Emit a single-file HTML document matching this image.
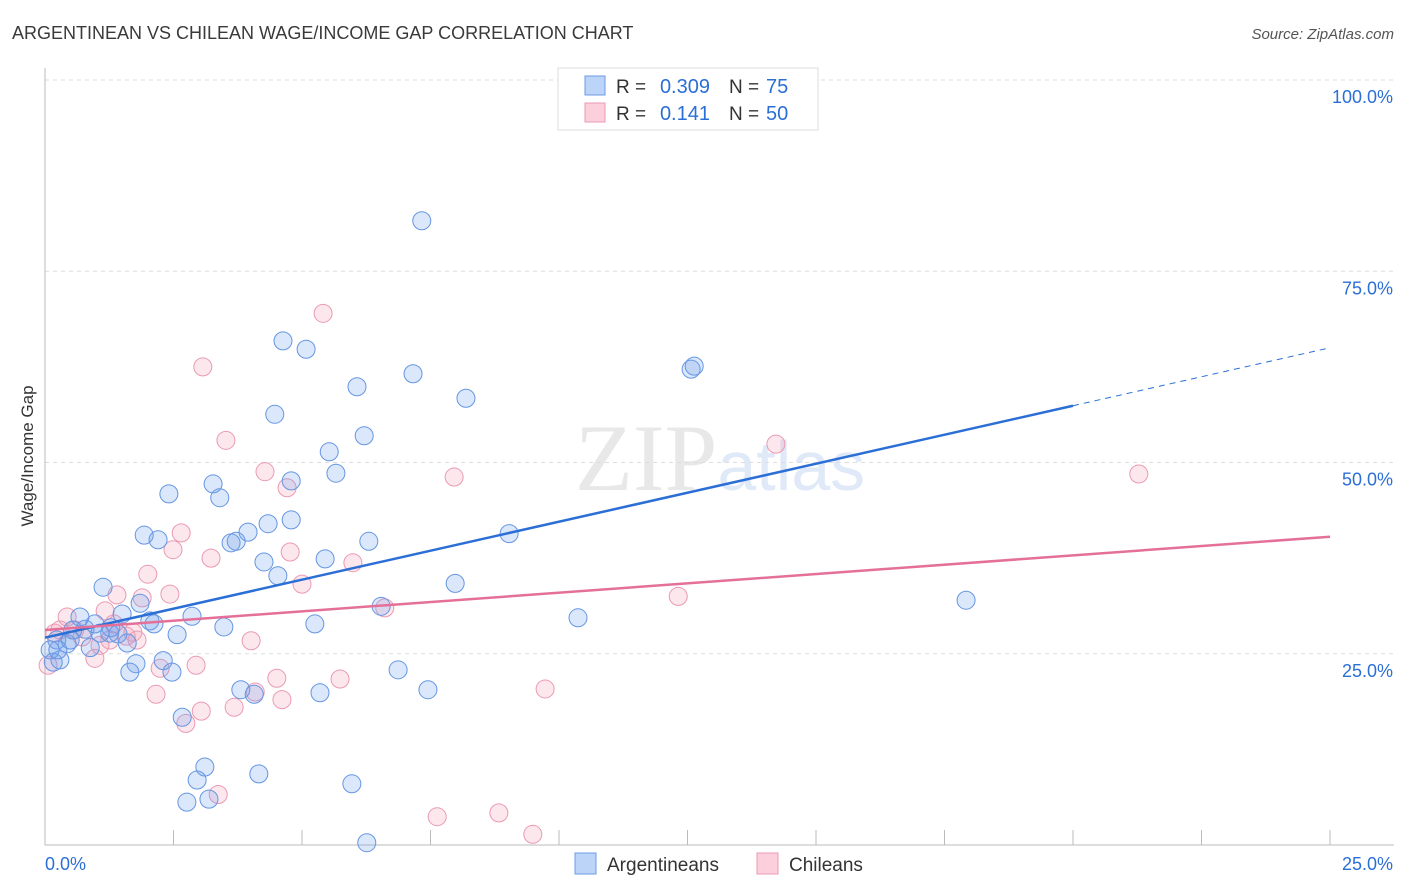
<!DOCTYPE html>
<html><head><meta charset="utf-8"><style>
body{margin:0;background:#fff;font-family:"Liberation Sans",sans-serif}
svg{display:block}
</style></head><body>
<svg id="chart" width="1406" height="892" viewBox="0 0 1406 892" xmlns="http://www.w3.org/2000/svg">
<text x="12" y="39" font-size="18" fill="#3a3a3a" font-family="Liberation Sans, sans-serif">ARGENTINEAN VS CHILEAN WAGE/INCOME GAP CORRELATION CHART</text>
<text x="1394" y="39" font-size="15" fill="#555" text-anchor="end" font-style="italic">Source: ZipAtlas.com</text>
<text x="720" y="490" font-size="95" fill="#e8e8e8" text-anchor="middle" font-family="Liberation Serif, serif">ZIP<tspan fill="#dfe9f7" font-family="Liberation Sans, sans-serif" font-size="70">atlas</tspan></text>
<g id="grid"></g>
<g id="axes"></g>
<g id="points"></g>
<g id="trends"></g>
<text transform="translate(33,456) rotate(-90)" font-size="17" fill="#333" text-anchor="middle">Wage/Income Gap</text>
<g>
<rect x="558" y="68" width="260" height="62" fill="#fff" stroke="#ddd"/>
<rect x="585" y="76" width="20" height="19" fill="#bcd4f7" stroke="#6b9be6"/>
<rect x="585" y="103" width="20" height="19" fill="#fbd0dc" stroke="#ec98b2"/>
<text x="616" y="93" font-size="19" fill="#333">R =</text>
<text x="710" y="93" font-size="20" fill="#2b6fd6" text-anchor="end">0.309</text>
<text x="729" y="93" font-size="19" fill="#333">N =</text>
<text x="766" y="93" font-size="20" fill="#2b6fd6">75</text>
<text x="616" y="120" font-size="19" fill="#333">R =</text>
<text x="710" y="120" font-size="20" fill="#2b6fd6" text-anchor="end">0.141</text>
<text x="729" y="120" font-size="19" fill="#333">N =</text>
<text x="766" y="120" font-size="20" fill="#2b6fd6">50</text>
</g>
<g>
<rect x="575" y="853" width="21" height="21" fill="#bcd4f7" stroke="#6b9be6"/>
<text x="607" y="871" font-size="19" fill="#333">Argentineans</text>
<rect x="757" y="853" width="21" height="21" fill="#fbd0dc" stroke="#ec98b2"/>
<text x="789" y="871" font-size="19" fill="#333">Chileans</text>
</g>
</svg>
<script>
const xTicks=[0,2.5,5,7.5,10,12.5,15,17.5,20,22.5,25];
const yTicks=[25,50,75,100];
const yTickLabels=["25.0%","50.0%","75.0%","100.0%"];
const xTickLabels=["0.0%","25.0%"];
const argX=[7.33,4.63,5.08,12.57,12.63,7.16,6.07,8.19,4.47,6.21,5.53,5.66,2.41,3.27,3.40,4.79,4.79,4.34,3.95,3.72,3.62,1.93,2.20,9.03,6.30,4.26,5.45,4.53,1.13,7.98,6.54,1.85,17.92,10.37,2.86,0.68,2.04,1.50,2.12,5.25,3.48,1.28,0.78,0.54,1.07,2.57,1.42,1.60,0.43,0.23,0.10,0.88,0.29,0.16,1.77,1.65,2.30,2.47,6.87,7.45,3.81,4.07,5.35,2.67,3.11,2.96,4.16,5.97,2.76,3.19,6.26,0.49,0.97,1.26,0.25];
const argY=[81.6,65.9,64.8,62.2,62.6,61.6,59.9,58.4,56.3,53.5,51.4,48.6,45.9,47.2,45.4,47.6,42.5,42.0,40.9,39.7,39.5,40.5,39.9,40.7,39.7,37.0,37.4,35.2,33.7,34.2,31.2,31.6,32.0,29.7,29.9,29.8,29.3,30.2,28.9,28.9,28.5,28.4,28.2,28.1,27.7,27.5,27.6,26.4,26.3,26.8,25.5,25.8,24.2,23.9,23.7,22.6,24.1,22.6,22.9,20.3,20.3,19.7,19.9,16.7,10.2,8.5,9.3,8.0,5.6,6.0,0.3,26.8,28.9,27.7,25.5];
const chiX=[5.41,3.07,3.52,4.28,7.96,4.71,14.22,21.28,2.65,2.49,3.23,4.77,2.00,5.99,5.00,1.40,2.43,1.89,6.61,0.43,1.17,12.32,1.34,0.58,1.71,1.58,1.79,4.01,0.19,0.72,0.97,0.06,2.24,2.94,5.74,4.51,2.16,4.09,3.68,4.61,9.73,3.04,2.74,3.37,7.63,8.83,9.49,1.26,0.29,1.07];
const chiY=[69.5,62.5,52.9,48.8,48.1,46.7,52.4,48.5,40.8,38.6,37.5,38.3,35.4,36.9,34.1,32.7,32.8,32.3,31.0,29.8,30.6,32.5,28.9,28.1,27.8,27.3,26.8,26.7,27.7,27.2,24.4,23.5,23.1,23.5,21.7,21.8,19.7,20.0,18.0,19.0,20.4,17.5,15.9,6.6,3.7,4.2,1.4,26.8,28.1,26.1];
const argTrend=[27.1,65.0];
const chiTrend=[28.1,40.3];
const argSolidEnd=20;

const NS="http://www.w3.org/2000/svg";
const X0=45,X1=1330,Y0=845,Y1=80;
const sx=v=>X0+(v/25)*(X1-X0);
const sy=v=>Y0-(v/100)*(Y0-Y1);
function mk(tag,attrs,parent){const e=document.createElementNS(NS,tag);for(const k in attrs)e.setAttribute(k,attrs[k]);parent.appendChild(e);return e;}
const grid=document.getElementById('grid'),axes=document.getElementById('axes'),pts=document.getElementById('points'),tr=document.getElementById('trends');
yTicks.forEach((t,i)=>{
  const l=mk('line',{x1:X0,x2:1394,y1:sy(t),y2:sy(t),stroke:'#ddd','stroke-dasharray':'4,4'},grid);
  
  
  const tx=mk('text',{x:1393,y:sy(t)+23,'font-size':18,fill:'#2b6fd6','text-anchor':'end'},axes);
  tx.textContent=yTickLabels[i];
  
  
});
const ax=mk('path',{d:`M${X0},68V${Y0}H1394`,stroke:'#bbb',fill:'none'},axes);


xTicks.slice(1).forEach(t=>{
  const l=mk('line',{x1:sx(t),x2:sx(t),y1:Y0-15,y2:Y0,stroke:'#bbb'},axes);
  
  
});
[[0,'start',45],[25,'end',1393]].forEach((a,i)=>{
  const tx=mk('text',{x:a[2],y:870,'font-size':18,fill:'#2b6fd6','text-anchor':a[1]},axes);
  tx.textContent=xTickLabels[i];
  
  
});
function drawPts(xs,ys,fill,stroke,name){
  xs.forEach((x,i)=>{
    const c=mk('circle',{cx:sx(x),cy:sy(ys[i]),r:9,fill:fill,stroke:stroke,'stroke-width':1},pts);
    
    
  });
}
drawPts(chiX,chiY,'rgba(245,160,185,0.25)','#eb9ab4','chilean-point');
drawPts(argX,argY,'rgba(110,160,235,0.25)','#6596e2','argentinean-point');
const at=v=>argTrend[0]+(argTrend[1]-argTrend[0])*v/25;
const ct=v=>chiTrend[0]+(chiTrend[1]-chiTrend[0])*v/25;
let l=mk('line',{x1:sx(0),y1:sy(at(0)),x2:sx(argSolidEnd),y2:sy(at(argSolidEnd)),stroke:'#2b6fd6','stroke-width':2.5},tr);


l=mk('line',{x1:sx(argSolidEnd),y1:sy(at(argSolidEnd)),x2:sx(25),y2:sy(at(25)),stroke:'#2b6fd6','stroke-width':1,'stroke-dasharray':'6,5'},tr);


l=mk('line',{x1:sx(0),y1:sy(ct(0)),x2:sx(25),y2:sy(ct(25)),stroke:'#e4709a','stroke-width':2.5},tr);


</script>
</body></html>
